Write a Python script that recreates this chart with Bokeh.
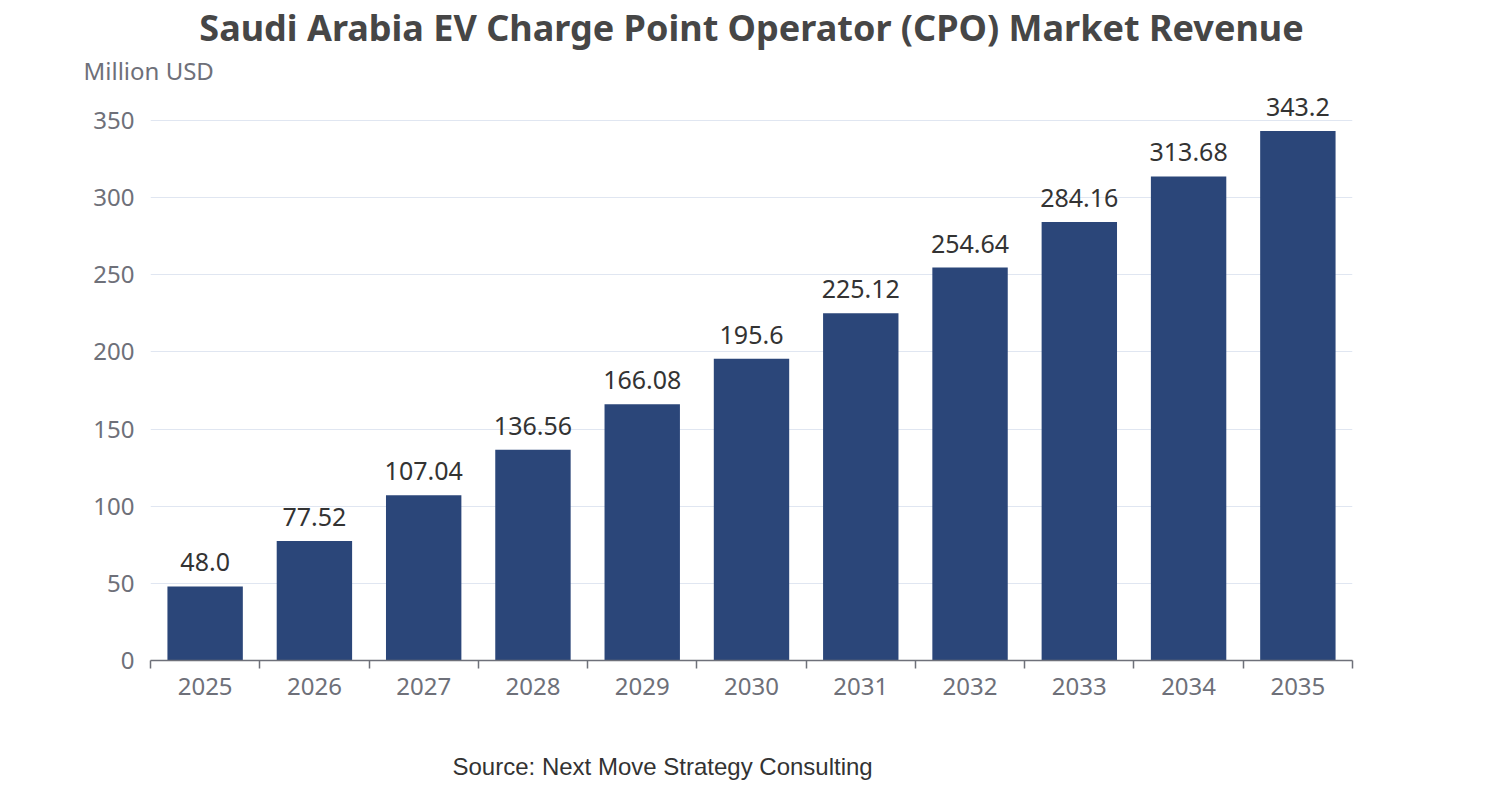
from bokeh.core.properties import value
from bokeh.embed import file_html
from bokeh.models import ColumnDataSource, FixedTicker, Range1d, Title
from bokeh.plotting import figure
from bokeh.resources import INLINE

years = ["2025", "2026", "2027", "2028", "2029", "2030", "2031", "2032", "2033", "2034", "2035"]
revenue = [48.0, 77.52, 107.04, 136.56, 166.08, 195.6, 225.12, 254.64, 284.16, 313.68, 343.2]
revenue_labels = ["48.0", "77.52", "107.04", "136.56", "166.08", "195.6", "225.12", "254.64", "284.16", "313.68", "343.2"]
y_ticks = [0, 50, 100, 150, 200, 250, 300, 350]

TITLE = "Saudi Arabia EV Charge Point Operator (CPO) Market Revenue"
UNIT = "Million USD"
SOURCE = "Source: Next Move Strategy Consulting"

BAR_COLOR = "#2b4679"
AXIS_TEXT = "#6e7079"
FONT = "Noto Sans"

centers = [i + 0.5 for i in range(len(years))]
source = ColumnDataSource(dict(x=centers, top=revenue, label=revenue_labels))

# y range runs a little past 350 so the top value label is not clipped
p = figure(
    width=1486,
    height=784,
    x_range=Range1d(0, len(years)),
    y_range=Range1d(0, 372),
    output_backend="svg",
    toolbar_location=None,
    min_border_left=150,
    min_border_right=134,
    min_border_top=86,
    min_border_bottom=124,
)
p.outline_line_color = None
p.background_fill_color = "white"

p.vbar(x="x", top="top", width=0.69, source=source, fill_color=BAR_COLOR, line_color=None)
p.text(
    x="x",
    y="top",
    text="label",
    source=source,
    text_align="center",
    text_baseline="bottom",
    y_offset=-15,
    text_font=value(FONT),
    text_font_size="25px",
    text_color="#333333",
)

# x axis: labels at bar centres, small ticks at category boundaries
xaxis = p.xaxis[0]
xaxis.ticker = FixedTicker(ticks=centers, minor_ticks=list(range(len(years) + 1)))
xaxis.major_label_overrides = {c: y for c, y in zip(centers, years)}
xaxis.major_tick_line_color = None
xaxis.major_tick_out = 0
xaxis.major_tick_in = 0
xaxis.minor_tick_line_color = AXIS_TEXT
xaxis.minor_tick_out = 8
xaxis.minor_tick_in = 0
xaxis.axis_line_color = AXIS_TEXT
xaxis.axis_line_width = 1.5
xaxis.minor_tick_line_width = 1.5
xaxis.major_label_standoff = 9
xaxis.major_label_text_font = FONT
xaxis.major_label_text_font_size = "24px"
xaxis.major_label_text_color = AXIS_TEXT

yaxis = p.yaxis[0]
yaxis.ticker = FixedTicker(ticks=y_ticks, minor_ticks=[])
yaxis.axis_line_color = None
yaxis.major_tick_line_color = None
yaxis.major_tick_out = 0
yaxis.major_tick_in = 0
yaxis.minor_tick_line_color = None
yaxis.major_label_standoff = 16
yaxis.major_label_text_font = FONT
yaxis.major_label_text_font_size = "24px"
yaxis.major_label_text_color = AXIS_TEXT

p.xgrid.grid_line_color = None
p.ygrid.ticker = FixedTicker(ticks=y_ticks)
p.ygrid.grid_line_color = "#e0e6f1"
p.ygrid.grid_line_width = 1.2

p.title.text = TITLE
p.title.align = "center"
p.title.text_font = FONT
p.title.text_font_size = "36px"
p.title.text_font_style = "bold"
p.title.text_color = "#464646"
p.title.standoff = 0

p.add_layout(Title(
    text=UNIT, align="left", offset=-67, standoff=0,
    text_font=FONT, text_font_size="24px", text_font_style="normal", text_color=AXIS_TEXT,
), "above")

# blank spacer between the x axis and the source line
p.add_layout(Title(text=" ", standoff=32, text_font_size="16px"), "below")
p.add_layout(Title(
    text=SOURCE, align="left", offset=302, standoff=4,
    text_font="Liberation Sans", text_font_size="24px", text_font_style="normal", text_color="#333333",
), "below")

open("out.html", "w").write(file_html(p, INLINE))
